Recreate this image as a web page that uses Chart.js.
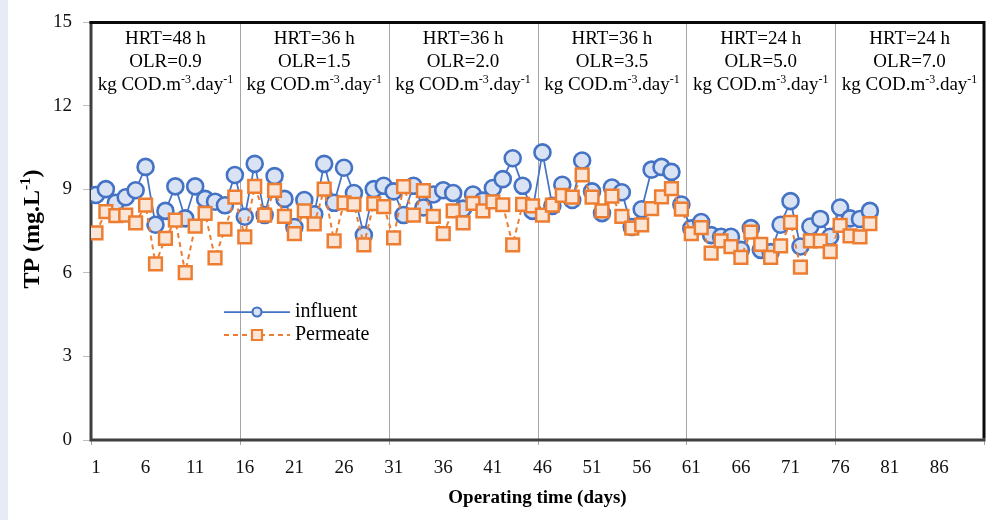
<!DOCTYPE html>
<html>
<head>
<meta charset="utf-8">
<script src="https://cdn.jsdelivr.net/npm/chart.js@4.4.1/dist/chart.umd.min.js"></script>
<style>
  html, body { margin: 0; padding: 0; background: #ffffff; }
  canvas { display: block; }
</style>
</head>
<body>
<canvas id="c" width="996" height="520"></canvas>
<script>
// Operating days (one sample per day)
const days = [1,2,3,4,5,6,7,8,9,10,11,12,13,14,15,16,17,18,19,20,
  21,22,23,24,25,26,27,28,29,30,31,32,33,34,35,36,37,38,39,40,
  41,42,43,44,45,46,47,48,49,50,51,52,53,54,55,56,57,58,59,60,
  61,62,63,64,65,66,67,68,69,70,71,72,73,74,75,76,77,78,79];

// Total phosphorus, mg/L
const influent = [8.80,9.01,8.52,8.72,8.97,9.81,7.73,8.23,9.11,7.96,
  9.11,8.66,8.56,8.43,9.52,8.02,9.92,8.08,9.48,8.66,
  7.65,8.62,8.11,9.92,8.52,9.78,8.87,7.36,9.01,9.13,
  8.93,8.08,9.13,8.35,8.82,8.97,8.87,8.31,8.82,8.60,
  9.05,9.37,10.12,9.13,8.23,10.33,8.41,9.17,8.62,10.04,
  8.93,8.15,9.07,8.90,7.65,8.29,9.71,9.81,9.63,8.46,
  7.60,7.83,7.36,7.30,7.30,6.83,7.61,6.83,6.75,7.73,
  8.58,6.95,7.67,7.94,7.30,8.35,7.96,7.94,8.23];

const permeate = [7.44,8.20,8.06,8.08,7.80,8.44,6.33,7.24,7.90,6.01,
  7.68,8.14,6.54,7.57,8.72,7.30,9.11,8.08,8.97,8.03,
  7.41,8.23,7.76,9.01,7.15,8.52,8.46,7.01,8.49,8.38,
  7.26,9.10,8.08,8.96,8.03,7.41,8.23,7.80,8.50,8.23,
  8.55,8.45,7.01,8.46,8.41,8.08,8.44,8.79,8.72,9.52,
  8.72,8.23,8.76,8.03,7.61,7.73,8.31,8.73,9.03,8.29,
  7.41,7.63,6.71,7.15,6.95,6.56,7.47,7.03,6.56,6.97,
  7.82,6.21,7.15,7.15,6.77,7.71,7.33,7.30,7.77];

// Axis tick labels
const xTickDays = [1,6,11,16,21,26,31,36,41,46,51,56,61,66,71,76,81,86];
const yTicks = [0,3,6,9,12,15];

// Operating phases: boundaries (between days) and their conditions
const phaseBounds = [0.5,15.5,30.5,45.5,60.5,75.5,90.5];
const phaseHRT = ['HRT=48 h','HRT=36 h','HRT=36 h','HRT=36 h','HRT=24 h','HRT=24 h'];
const phaseOLR = ['OLR=0.9','OLR=1.5','OLR=2.0','OLR=3.5','OLR=5.0','OLR=7.0'];

const seriesNames = ['influent','Permeate'];

const SERIF = '"Liberation Serif", "Times New Roman", serif';
const BLUE = '#4472C4', BLUE_FILL = '#DAE3F3';
const ORANGE = '#ED7D31', ORANGE_FILL = '#FBE5D6';

// Text with superscript segments; parts = [[text, isSup], ...]
function richWidth(ctx, parts, size, weight) {
  let w = 0;
  for (const [t, sup] of parts) {
    ctx.font = (weight || '') + ' ' + (sup ? Math.round(size * 0.62) : size) + 'px ' + SERIF;
    w += ctx.measureText(t).width;
  }
  return w;
}
function drawRich(ctx, parts, x, y, size, weight) {
  let cx = x;
  ctx.textBaseline = 'alphabetic';
  ctx.textAlign = 'left';
  for (const [t, sup] of parts) {
    const s = sup ? Math.round(size * 0.62) : size;
    ctx.font = (weight || '') + ' ' + s + 'px ' + SERIF;
    ctx.fillText(t, cx, sup ? y - size * 0.38 : y);
    cx += ctx.measureText(t).width;
  }
}

const decorations = {
  id: 'decorations',
  beforeDraw(chart) {
    const ctx = chart.ctx;
    ctx.save();
    ctx.fillStyle = '#ffffff';
    ctx.fillRect(0, 0, chart.width, chart.height);
    ctx.fillStyle = '#E7EBF6';
    ctx.fillRect(0, 0, 8, chart.height);
    ctx.restore();
  },
  beforeDatasetsDraw(chart) {
    const ctx = chart.ctx;
    const xs = chart.scales.x;
    const { left, right, top, bottom } = chart.chartArea;
    ctx.save();

    // phase separators with short marks below the axis
    ctx.strokeStyle = '#A6A6A6';
    ctx.lineWidth = 1;
    phaseBounds.forEach((b, i) => {
      const px = Math.round(xs.getPixelForValue(b)) + 0.5;
      ctx.beginPath();
      ctx.moveTo(px, (i === 0 || i === phaseBounds.length - 1) ? bottom : top);
      ctx.lineTo(px, bottom + 5);
      ctx.stroke();
    });

    // plot frame
    ctx.lineWidth = 3;
    ctx.strokeStyle = '#3F3F3F';
    ctx.beginPath();
    ctx.moveTo(left, top - 1.5); ctx.lineTo(left, bottom);
    ctx.lineTo(right + 1.5, bottom);
    ctx.stroke();
    ctx.strokeStyle = '#0A0A0A';
    ctx.beginPath();
    ctx.moveTo(left - 1.5, top); ctx.lineTo(right, top);
    ctx.lineTo(right, bottom - 1.5);
    ctx.stroke();

    // phase conditions
    ctx.fillStyle = '#000000';
    for (let i = 0; i < phaseHRT.length; i++) {
      const cx = (xs.getPixelForValue(phaseBounds[i]) + xs.getPixelForValue(phaseBounds[i + 1])) / 2;
      ctx.textAlign = 'center';
      ctx.textBaseline = 'alphabetic';
      ctx.font = '19px ' + SERIF;
      ctx.fillText(phaseHRT[i], cx, 44);
      ctx.fillText(phaseOLR[i], cx, 67);
      const parts = [['kg COD.m', false], ['-3', true], ['.day', false], ['-1', true]];
      const w = richWidth(ctx, parts, 19);
      drawRich(ctx, parts, cx - w / 2, 90, 19);
    }

    // y-axis title
    ctx.save();
    ctx.translate(39, 229);
    ctx.rotate(-Math.PI / 2);
    const tparts = [['TP (mg.L', false], ['-1', true], [')', false]];
    const tw = richWidth(ctx, tparts, 24, 'bold');
    drawRich(ctx, tparts, -tw / 2, 0, 24, 'bold');
    ctx.restore();

    ctx.restore();
  },
  afterDatasetsDraw(chart) {
    // legend: line + marker + label
    const ctx = chart.ctx;
    ctx.save();
    const x0 = 224, x1 = 290, mx = 257;
    const rows = [312, 335];
    rows.forEach((y, i) => {
      ctx.beginPath();
      ctx.lineWidth = i === 0 ? 1.75 : 2;
      ctx.strokeStyle = i === 0 ? BLUE : ORANGE;
      ctx.setLineDash(i === 0 ? [] : [5, 4]);
      ctx.moveTo(x0, y); ctx.lineTo(x1, y);
      ctx.stroke();
      ctx.setLineDash([]);
      ctx.lineWidth = 2.2;
      if (i === 0) {
        ctx.fillStyle = BLUE_FILL;
        ctx.beginPath(); ctx.arc(mx, y, 4.5, 0, Math.PI * 2); ctx.fill(); ctx.stroke();
      } else {
        ctx.fillStyle = ORANGE_FILL;
        ctx.beginPath(); ctx.rect(mx - 5, y - 5, 10, 10); ctx.fill(); ctx.stroke();
      }
      ctx.fillStyle = '#000000';
      ctx.font = '20px ' + SERIF;
      ctx.textAlign = 'left';
      ctx.textBaseline = 'middle';
      ctx.fillText(seriesNames[i], 295, y);
    });
    ctx.restore();
  }
};

const toXY = (vals) => vals.map((v, i) => ({ x: days[i], y: v }));

new Chart(document.getElementById('c'), {
  type: 'line',
  data: {
    datasets: [
      {
        label: seriesNames[1],
        data: toXY(permeate),
        borderColor: ORANGE,
        borderWidth: 2,
        borderDash: [5, 4],
        pointStyle: 'rect',
        pointRadius: 9,
        pointBorderWidth: 2.5,
        pointBackgroundColor: ORANGE_FILL,
        pointBorderColor: ORANGE,
        tension: 0,
        order: 0
      },
      {
        label: seriesNames[0],
        data: toXY(influent),
        borderColor: BLUE,
        borderWidth: 1.75,
        pointStyle: 'circle',
        pointRadius: 8,
        pointBorderWidth: 2.6,
        pointBackgroundColor: BLUE_FILL,
        pointBorderColor: BLUE,
        tension: 0,
        order: 1
      }
    ]
  },
  options: {
    responsive: false,
    animation: false,
    devicePixelRatio: 1,
    layout: { padding: { left: 0, right: 12, top: 12, bottom: 0 } },
    plugins: {
      legend: { display: false },
      tooltip: { enabled: false },
      title: { display: false }
    },
    scales: {
      x: {
        type: 'linear',
        min: 0.5,
        max: 90.5,
        afterBuildTicks(scale) { scale.ticks = xTickDays.map(v => ({ value: v })); },
        afterFit(scale) { scale.height = 80; },
        grid: { display: true, drawOnChartArea: false, drawTicks: false, color: 'rgba(0,0,0,0)' },
        border: { display: false },
        ticks: {
          autoSkip: false,
          maxRotation: 0,
          padding: 17,
          color: '#111111',
          font: { family: SERIF, size: 19 },
          callback: (v) => String(v)
        },
        title: {
          display: true,
          text: 'Operating time (days)',
          color: '#000000',
          font: { family: SERIF, size: 19, weight: 'bold' },
          padding: { top: 4, bottom: 11 }
        }
      },
      y: {
        min: 0,
        max: 15,
        afterBuildTicks(scale) { scale.ticks = yTicks.map(v => ({ value: v })); },
        afterFit(scale) { scale.width = 91; },
        grid: { display: true, drawOnChartArea: false, drawTicks: true, tickLength: 8, color: '#BFBFBF' },
        border: { display: false },
        ticks: {
          padding: 11,
          color: '#111111',
          font: { family: SERIF, size: 19 }
        }
      }
    }
  },
  plugins: [decorations]
});
</script>
</body>
</html>
